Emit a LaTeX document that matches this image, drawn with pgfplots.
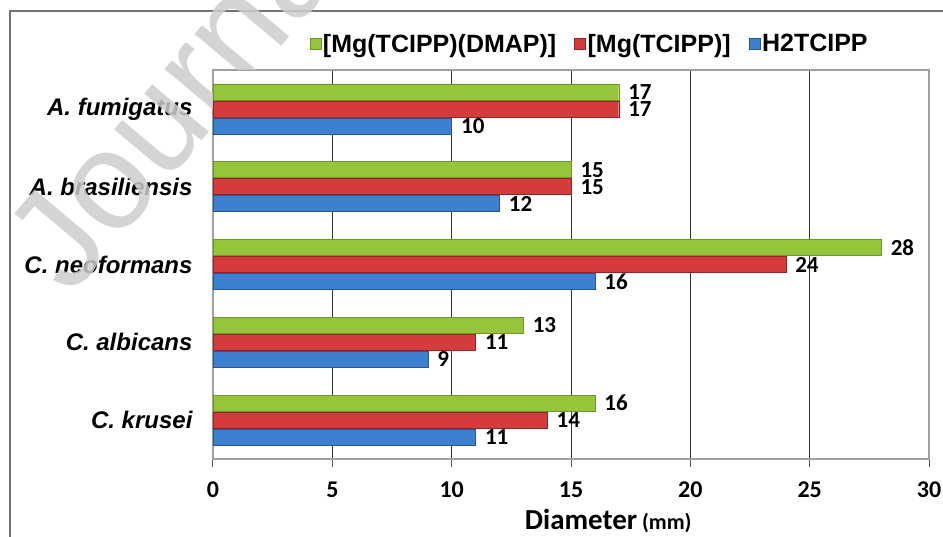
\documentclass[border=0pt]{standalone}
\usepackage{fontspec}
\setmainfont{Carlito}
\newfontfamily\arialfont{Liberation Sans}
\usepackage{pgfplots}
\pgfplotsset{compat=1.18}

\definecolor{cgreen}{RGB}{150,196,58}
\definecolor{cgreenD}{RGB}{110,150,40}
\definecolor{cred}{RGB}{212,60,60}
\definecolor{credD}{RGB}{150,35,35}
\definecolor{cblue}{RGB}{62,128,208}
\definecolor{cblueD}{RGB}{40,85,150}

\begin{document}
\begin{tikzpicture}[x=1pt,y=1pt]
\useasboundingbox (0,0) rectangle (943,537);
% outer frame (cut by the page on the right and bottom)
\draw[gray!90!black, line width=1.5pt] (10,-2) -- (10,526) -- (945,526);

\begin{axis}[
    at={(213pt,78pt)}, anchor=south west,
    scale only axis,
    width=716pt, height=389pt,
    xbar, bar width=16pt,
    xmin=0, xmax=30,
    ymin=-0.5, ymax=4.5,
    xtick={0,5,...,30},
    ytick={0,1,2,3,4},
    yticklabels={C. krusei, C. albicans\hspace{8pt}, C. neoformans, A. brasiliensis, A. fumigatus},
    extra y ticks={-0.5,0.5,1.5,2.5,3.5},
    extra y tick labels={},
    extra y tick style={grid=none, tick style={draw=gray!70!black, line width=1pt}},
    ytick style={draw=none},
    xtick style={draw=gray!70!black, line width=1pt},
    major tick length=8pt,
    tick align=outside,
    xtick pos=bottom, ytick pos=left,
    xmajorgrids=true,
    grid style={black!80, line width=0.9pt},
    axis line style={gray!75, line width=1.2pt},
    /pgf/number format/assume math mode=true,
    xticklabel style={font=\bfseries\fontsize{24}{28}\selectfont, yshift=-11pt},
    yticklabel style={font=\arialfont\bfseries\itshape\fontsize{24}{28}\selectfont, xshift=-9pt},
    xlabel={\textbf{Diameter}\,{\fontsize{22}{26}\selectfont\textbf{(mm)}}},
    xlabel style={font=\fontsize{29}{34}\selectfont, at={(axis description cs:0.552,-0.16)}, anchor=center},
    nodes near coords,
    nodes near coords style={font=\bfseries\fontsize{23}{26}\selectfont, anchor=west, xshift=6pt},
    legend style={at={(axis description cs:0.526,1.067)}, anchor=center,
        draw=none, fill=none, legend columns=3,
        font=\arialfont\bfseries\fontsize{25}{30}\selectfont,
        /tikz/every even column/.append style={column sep=16pt}},
    legend image code/.code={\fill[#1] (-4pt,-5pt) rectangle (7pt,6pt);},
]
\addplot[draw=cgreenD, fill=cgreen, bar shift=17pt]
    coordinates {(16,0) (13,1) (28,2) (15,3) (17,4)};
\addlegendentry{\relax[Mg(TCIPP)(DMAP)]}
\addplot[draw=credD, fill=cred, bar shift=0pt]
    coordinates {(14,0) (11,1) (24,2) (15,3) (17,4)};
\addlegendentry{\relax[Mg(TCIPP)]}
\addplot[draw=cblueD, fill=cblue, bar shift=-17pt]
    coordinates {(11,0) (9,1) (16,2) (12,3) (10,4)};
\addlegendentry{H2TCIPP}
\end{axis}

% watermark, hidden behind the plot area
\begin{scope}
\clip (0,0) rectangle (212,537) (0,467) rectangle (943,537);
\node[rotate=50, anchor=base west, text=gray!40, opacity=0.85, inner sep=0pt,
      font=\arialfont\fontsize{140}{150}\selectfont] at (70,239) {Journal Pre-proof};
\end{scope}
\end{tikzpicture}
\end{document}
